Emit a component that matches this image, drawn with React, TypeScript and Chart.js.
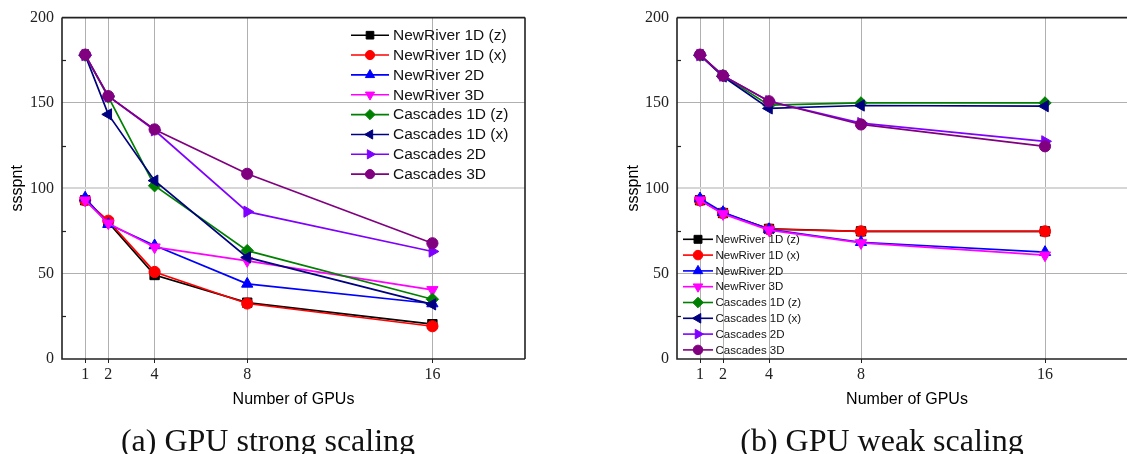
import React, { useEffect, useRef } from 'react';
import { Chart, registerables } from 'chart.js';
import { drawPoint } from 'chart.js/helpers';

Chart.register(...registerables);

// ---------- data ----------
const gpus = [1, 2, 4, 8, 16];
const xTickValues = [1, 2, 4, 8, 16];
const yTickValues = [0, 50, 100, 150, 200];

const seriesNames = [
  'NewRiver 1D (z)',
  'NewRiver 1D (x)',
  'NewRiver 2D',
  'NewRiver 3D',
  'Cascades 1D (z)',
  'Cascades 1D (x)',
  'Cascades 2D',
  'Cascades 3D',
];
const seriesColors = ['#000000', '#ff0000', '#0000ff', '#ff00ff', '#008000', '#000080', '#8000ff', '#800080'];
const seriesPointStyles = ['rect', 'circle', 'triangle', 'triangle', 'rectRot', 'triangle', 'triangle', 'circle'];
const seriesRotations = [0, 0, 0, 180, 0, 270, 90, 0];
const seriesRadii = [6.6, 5.6, 6.5, 6.5, 6.2, 6.5, 6.5, 5.6];

// (a) strong scaling
const strongNR1Dz = [93, 80, 49.2, 33, 20.4];
const strongNR1Dx = [93, 81, 51, 32.5, 19.2];
const strongNR2D = [94.5, 79, 66.5, 44, 32.5];
const strongNR3D = [93, 79.5, 65.5, 57.5, 40.5];
const strongCC1Dz = [178, 153.5, 101.5, 63.5, 35];
const strongCC1Dx = [178, 143.3, 104.5, 59.5, 32];
const strongCC2D = [178, 154, 134, 86.3, 63];
const strongCC3D = [178.3, 154, 134.5, 108.5, 67.8];

// (b) weak scaling
const weakNR1Dz = [93, 85.5, 76.2, 74.8, 74.8];
const weakNR1Dx = [93, 85.5, 76, 74.8, 74.8];
const weakNR2D = [94, 86, 76, 68.4, 62.6];
const weakNR3D = [93, 85, 75.5, 68, 60.8];
const weakCC1Dz = [178, 166, 148.7, 150, 150];
const weakCC1Dx = [178, 165.5, 146.8, 148.5, 148.1];
const weakCC2D = [178, 166, 151, 138.2, 127.5];
const weakCC3D = [178.3, 166, 151, 137.4, 124.6];

const strongSeries = [strongNR1Dz, strongNR1Dx, strongNR2D, strongNR3D, strongCC1Dz, strongCC1Dx, strongCC2D, strongCC3D];
const weakSeries = [weakNR1Dz, weakNR1Dx, weakNR2D, weakNR3D, weakCC1Dz, weakCC1Dx, weakCC2D, weakCC3D];

const xTitle = 'Number of GPUs';
const yTitle = 'ssspnt';
const captionA = '(a) GPU strong scaling';
const captionB = '(b) GPU weak scaling';

// ---------- layout ----------
const CANVAS_H = 454;
const PLOT_TOP = 16;
const PLOT_BOTTOM = 359;

type Layout = {
  width: number;
  plotLeft: number;
  plotRight: number;
  xMax: number;
  yTitleX: number;
  extendRight: boolean;
  legend: { lineX0: number; lineX1: number; textX: number; y0: number; dy: number; font: number; markerScale: number };
};

const framePlugin = {
  id: 'frame',
  beforeDatasetsDraw(chart: any) {
    const ctx = chart.ctx;
    const { left } = chart.chartArea;
    const y = chart.scales.y;
    ctx.save();
    ctx.strokeStyle = '#222';
    ctx.lineWidth = 1.2;
    for (let v = 25; v < 200; v += 50) {
      const py = Math.round(y.getPixelForValue(v)) + 0.5;
      ctx.beginPath();
      ctx.moveTo(left, py);
      ctx.lineTo(left + 4, py);
      ctx.stroke();
    }
    ctx.restore();
  },
  afterDraw(chart: any, _args: any, opts: any) {
    const ctx = chart.ctx;
    const { left, right, top, bottom } = chart.chartArea;
    const lay: Layout = opts.layout;
    ctx.save();
    // frame
    ctx.strokeStyle = '#222';
    ctx.lineWidth = 1.6;
    ctx.beginPath();
    ctx.moveTo(left, top);
    ctx.lineTo(left, bottom);
    ctx.lineTo(lay.extendRight ? chart.width : right, bottom);
    ctx.moveTo(left, top);
    ctx.lineTo(lay.extendRight ? chart.width : right, top);
    if (!lay.extendRight) {
      ctx.moveTo(right, top);
      ctx.lineTo(right, bottom);
    }
    ctx.stroke();

    // axis titles
    ctx.fillStyle = '#000';
    ctx.font = '16px "Liberation Sans", Arial, sans-serif';
    ctx.textAlign = 'center';
    ctx.textBaseline = 'middle';
    const xs = chart.scales.x;
    ctx.fillText(xTitle, xs.getPixelForValue(10), 400);
    ctx.save();
    ctx.translate(lay.yTitleX, (top + bottom) / 2);
    ctx.rotate(-Math.PI / 2);
    ctx.fillText(yTitle, 0, 0);
    ctx.restore();

    // legend
    const lg = lay.legend;
    ctx.font = `${lg.font}px "Liberation Sans", Arial, sans-serif`;
    ctx.textAlign = 'left';
    chart.data.datasets.forEach((ds: any, i: number) => {
      const yy = lg.y0 + i * lg.dy;
      ctx.strokeStyle = ds.borderColor;
      ctx.lineWidth = 1.6;
      ctx.beginPath();
      ctx.moveTo(lg.lineX0, yy);
      ctx.lineTo(lg.lineX1, yy);
      ctx.stroke();
      ctx.fillStyle = ds.backgroundColor;
      ctx.lineWidth = 1;
      drawPoint(ctx, {
        pointStyle: ds.pointStyle,
        rotation: ds.pointRotation,
        radius: ds.pointRadius * lg.markerScale,
        borderWidth: 1,
      } as any, (lg.lineX0 + lg.lineX1) / 2, yy);
      ctx.fillStyle = '#111';
      ctx.textBaseline = 'middle';
      ctx.fillText(ds.label, lg.textX, yy + 0.5);
    });
    ctx.restore();
  },
};

function ScalingChart({ series, layout }: { series: number[][]; layout: Layout }) {
  const ref = useRef<HTMLCanvasElement>(null);
  useEffect(() => {
    const canvas = ref.current!;
    const datasets = series.map((vals, i) => ({
      label: seriesNames[i],
      data: gpus.map((g, j) => ({ x: g, y: vals[j] })),
      borderColor: seriesColors[i],
      backgroundColor: seriesColors[i],
      pointBackgroundColor: seriesColors[i],
      pointBorderColor: seriesColors[i],
      pointStyle: seriesPointStyles[i],
      pointRotation: seriesRotations[i],
      pointRadius: seriesRadii[i],
      pointBorderWidth: 1,
      borderWidth: 1.7,
      tension: 0,
      order: -i,
    }));
    const chart = new Chart(canvas, {
      type: 'line',
      data: { datasets },
      plugins: [framePlugin],
      options: {
        animation: false,
        responsive: false,
        devicePixelRatio: 1,
        layout: { padding: { top: PLOT_TOP, right: layout.width - layout.plotRight, left: 0, bottom: 0 } },
        plugins: {
          legend: { display: false },
          tooltip: { enabled: false },
          frame: { layout },
        } as any,
        scales: {
          x: {
            type: 'linear',
            min: 0,
            max: layout.xMax,
            afterBuildTicks: (s: any) => {
              s.ticks = xTickValues.map((v) => ({ value: v }));
            },
            afterFit: (s: any) => {
              s.height = CANVAS_H - PLOT_BOTTOM;
            },
            grid: { color: '#b0b0b0', lineWidth: 1, tickColor: '#222', tickLength: 4, drawTicks: true },
            border: { display: false },
            ticks: {
              font: { family: '"Liberation Serif", "Times New Roman", serif', size: 16 },
              color: '#222',
              padding: 2,
              maxRotation: 0,
              autoSkip: false,
            },
          },
          y: {
            type: 'linear',
            min: 0,
            max: 200,
            afterBuildTicks: (s: any) => {
              s.ticks = yTickValues.map((v) => ({ value: v }));
            },
            afterFit: (s: any) => {
              s.width = layout.plotLeft;
            },
            grid: {
              drawTicks: false,
              color: (c: any) => {
                const v = c.tick ? c.tick.value : null;
                if (v === 0 || v === 200) return 'rgba(0,0,0,0)';
                if (v === 100) return '#d6d6d6';
                return '#b0b0b0';
              },
              lineWidth: (c: any) => (c.tick && c.tick.value === 100 ? 2 : 1),
            },
            border: { display: false },
            ticks: {
              font: { family: '"Liberation Serif", "Times New Roman", serif', size: 16 },
              color: '#222',
              padding: 8,
            },
          },
        },
      } as any,
    });
    return () => chart.destroy();
  }, [series, layout]);
  return <canvas ref={ref} width={layout.width} height={CANVAS_H} style={{ display: 'block', width: layout.width, height: CANVAS_H }} />;
}

const layoutA: Layout = {
  width: 560,
  plotLeft: 62,
  plotRight: 525,
  xMax: 20,
  yTitleX: 18,
  extendRight: false,
  legend: { lineX0: 351, lineX1: 389, textX: 393, y0: 35.2, dy: 19.85, font: 15.5, markerScale: 0.82 },
};

const layoutB: Layout = {
  width: 600,
  plotLeft: 117,
  plotRight: 577,
  xMax: 20,
  yTitleX: 74,
  extendRight: true,
  legend: { lineX0: 123, lineX1: 153, textX: 155.5, y0: 239.3, dy: 15.8, font: 11.5, markerScale: 0.85 },
};

const captionStyle: React.CSSProperties = {
  position: 'absolute',
  top: 421,
  width: 500,
  height: 38,
  lineHeight: '38px',
  textAlign: 'center',
  fontFamily: '"Liberation Serif", "Times New Roman", serif',
  fontSize: 32,
  color: '#111',
  whiteSpace: 'nowrap',
};

export default function App() {
  return (
    <div style={{ position: 'fixed', left: 0, top: 0, width: 1127, height: 454, overflow: 'hidden', background: '#fff' }}>
      <div style={{ position: 'absolute', left: 0, top: 0 }}>
        <ScalingChart series={strongSeries} layout={layoutA} />
      </div>
      <div style={{ position: 'absolute', left: 560, top: 0 }}>
        <ScalingChart series={weakSeries} layout={layoutB} />
      </div>
      <div style={{ ...captionStyle, left: 268 - 250 }}>{captionA}</div>
      <div style={{ ...captionStyle, left: 882 - 250 }}>{captionB}</div>
    </div>
  );
}
